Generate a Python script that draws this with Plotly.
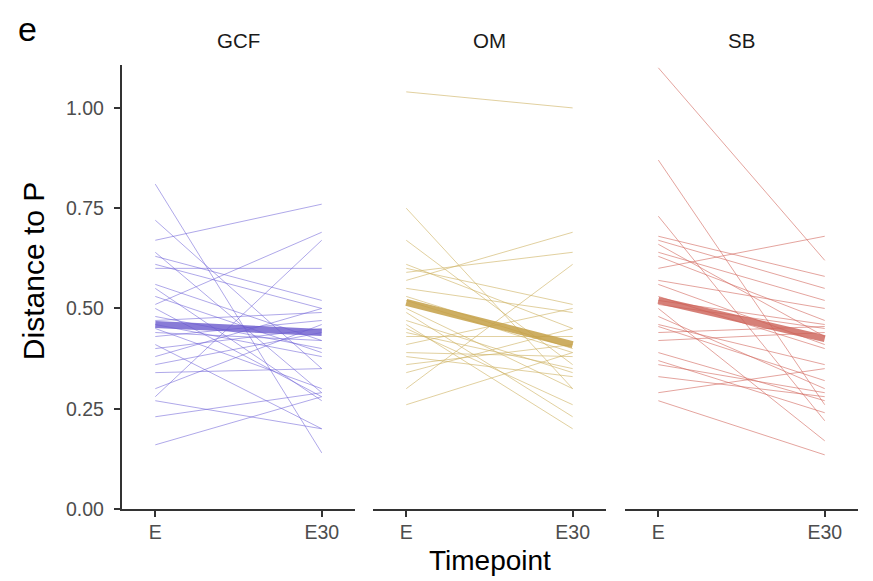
import plotly.graph_objects as go

# ---------------- data ----------------
panels = ["GCF", "OM", "SB"]
timepoints = ["E", "E30"]

gcf_E   = [0.81, 0.72, 0.67, 0.64, 0.63, 0.61, 0.60, 0.56, 0.53, 0.51, 0.50, 0.47, 0.46, 0.45, 0.43, 0.41, 0.40, 0.38, 0.36, 0.34, 0.30, 0.28, 0.27, 0.23, 0.16, 0.55, 0.48, 0.44]
gcf_E30 = [0.14, 0.35, 0.76, 0.29, 0.52, 0.50, 0.60, 0.42, 0.39, 0.69, 0.28, 0.49, 0.38, 0.30, 0.47, 0.20, 0.45, 0.50, 0.44, 0.35, 0.46, 0.67, 0.20, 0.29, 0.28, 0.27, 0.40, 0.42]

om_E    = [1.04, 0.75, 0.67, 0.60, 0.57, 0.59, 0.55, 0.52, 0.49, 0.46, 0.44, 0.41, 0.36, 0.34, 0.26, 0.30, 0.50, 0.47, 0.43, 0.39, 0.53, 0.45, 0.38, 0.61]
om_E30  = [1.00, 0.30, 0.36, 0.51, 0.69, 0.64, 0.49, 0.39, 0.23, 0.20, 0.35, 0.50, 0.41, 0.45, 0.39, 0.61, 0.30, 0.34, 0.43, 0.38, 0.40, 0.26, 0.33, 0.45]

sb_E    = [1.10, 0.87, 0.73, 0.68, 0.67, 0.64, 0.63, 0.57, 0.56, 0.52, 0.50, 0.46, 0.455, 0.42, 0.39, 0.37, 0.36, 0.29, 0.27, 0.60, 0.53, 0.48, 0.44, 0.33, 0.66, 0.51]
sb_E30  = [0.62, 0.26, 0.22, 0.58, 0.55, 0.52, 0.47, 0.50, 0.41, 0.46, 0.17, 0.36, 0.32, 0.44, 0.27, 0.24, 0.29, 0.35, 0.135, 0.68, 0.40, 0.30, 0.455, 0.28, 0.43, 0.45]

mean_E   = [0.46, 0.515, 0.52]
mean_E30 = [0.44, 0.41, 0.425]

series = {"GCF": (gcf_E, gcf_E30), "OM": (om_E, om_E30), "SB": (sb_E, sb_E30)}

yticks = [0.0, 0.25, 0.5, 0.75, 1.0]
ytick_text = ["0.00", "0.25", "0.50", "0.75", "1.00"]

# ---------------- style ----------------
thin_col = {"GCF": "rgba(110,96,215,0.55)", "OM": "rgba(205,176,95,0.6)", "SB": "rgba(210,104,94,0.6)"}
mean_col = {"GCF": "rgba(106,90,205,0.8)", "OM": "rgba(196,160,70,0.85)", "SB": "rgba(204,96,86,0.8)"}
domains = [[0.0, 0.3166], [0.341, 0.6575], [0.6835, 1.0]]
FONT = "Liberation Sans, Arial, sans-serif"

fig = go.Figure()
for i, p in enumerate(panels):
    ax = "" if i == 0 else str(i + 1)
    e, e30 = series[p]
    xs, ys = [], []
    for a, b in zip(e, e30):
        xs += [timepoints[0], timepoints[1], None]
        ys += [a, b, None]
    fig.add_trace(go.Scatter(x=xs, y=ys, mode="lines", line=dict(color=thin_col[p], width=1),
                             xaxis="x" + ax, yaxis="y" + ax, showlegend=False, hoverinfo="skip"))
    fig.add_trace(go.Scatter(x=timepoints, y=[mean_E[i], mean_E30[i]], mode="lines",
                             line=dict(color=mean_col[p], width=7),
                             xaxis="x" + ax, yaxis="y" + ax, showlegend=False))

layout = dict(
    width=865, height=573,
    margin=dict(l=114, r=15, t=57, b=72),
    paper_bgcolor="white", plot_bgcolor="white",
    font=dict(family=FONT, color="#4d4d4d", size=19),
    showlegend=False,
    annotations=[],
)
for i, p in enumerate(panels):
    ax = "" if i == 0 else str(i + 1)
    layout["xaxis" + ax] = dict(
        domain=domains[i], anchor="y" + ax, type="category",
        categoryorder="array", categoryarray=timepoints,
        range=[-0.2, 1.2], showgrid=False, zeroline=False,
        showline=True, linecolor="#333333", linewidth=2.4,
        ticks="outside", ticklen=6, tickwidth=1.6, tickcolor="#333333",
        ticklabelstandoff=-2,
        tickfont=dict(family=FONT, size=19.5, color="#4d4d4d"),
    )
    layout["yaxis" + ax] = dict(
        anchor="x" + ax, range=[0, 1.107], showgrid=False, zeroline=False,
        showline=(i == 0), linecolor="#333333", linewidth=2.4,
        ticks="outside" if i == 0 else "", ticklen=6, tickwidth=1.6, tickcolor="#333333",
        tickvals=yticks, ticktext=ytick_text, showticklabels=(i == 0),
        ticklabelstandoff=6,
        tickfont=dict(family=FONT, size=19.5, color="#4d4d4d"),
    )
    layout["annotations"].append(dict(
        text=p, x=sum(domains[i]) / 2, y=1.056, xref="paper", yref="paper",
        showarrow=False, font=dict(family=FONT, size=20.5, color="#1a1a1a"),
        xanchor="center", yanchor="middle"))

layout["annotations"] += [
    dict(text="e", x=-0.128, y=1.082, xref="paper", yref="paper", showarrow=False,
         font=dict(family=FONT, size=34, color="black"), xanchor="center", yanchor="middle"),
    dict(text="Distance to P", x=-0.12, y=0.535, xref="paper", yref="paper", showarrow=False,
         textangle=-90, font=dict(family=FONT, size=30, color="black"),
         xanchor="center", yanchor="middle"),
    dict(text="Timepoint", x=0.5, y=-0.115, xref="paper", yref="paper", showarrow=False,
         font=dict(family=FONT, size=28, color="black"), xanchor="center", yanchor="middle"),
]
fig.update_layout(**layout)
fig.write_html("out.html")
